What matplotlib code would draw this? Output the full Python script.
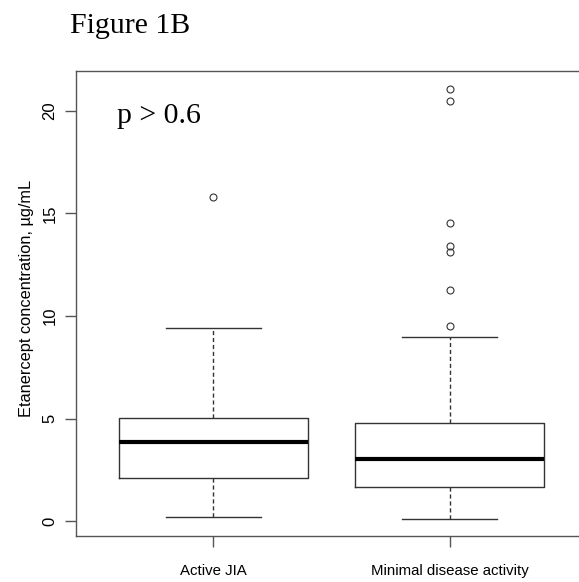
import matplotlib
matplotlib.use("Agg")
import matplotlib.pyplot as plt

groups = ["Active JIA", "Minimal disease activity"]
q1 = [2.10, 1.70]
med = [3.87, 3.02]
q3 = [5.02, 4.78]
whislo = [0.20, 0.13]
whishi = [9.40, 8.98]
fliers = [
    [15.8],
    [21.07, 20.48, 14.51, 13.42, 13.12, 11.29, 9.50],
]

stats = []
for i, g in enumerate(groups):
    stats.append(dict(label=g, q1=q1[i], med=med[i], q3=q3[i],
                      whislo=whislo[i], whishi=whishi[i], fliers=fliers[i]))

fig = plt.figure(figsize=(5.79, 5.82), dpi=100)
W, H = 579, 582
# axes box in pixels: left 76, right ~587 (cut off), top 71, bottom 536
ax = fig.add_axes([76 / W, 1 - 536 / H, (587 - 76) / W, (536 - 71) / H])

edge = "#333333"
ax.bxp(stats, positions=[1, 2], widths=0.8, showfliers=True,
       boxprops=dict(color=edge, linewidth=1.0),
       medianprops=dict(color="black", linewidth=3.0, solid_capstyle="butt"),
       whiskerprops=dict(color=edge, linewidth=1.0, linestyle=(0, (3, 2))),
       capprops=dict(color=edge, linewidth=1.0),
       capwidths=0.4,
       flierprops=dict(marker="o", markersize=5, markerfacecolor="none",
                       markeredgecolor=edge, markeredgewidth=0.8))

ax.set_xlim(0.42, 2.58)
ax.set_ylim(-0.71, 21.93)

for s in ax.spines.values():
    s.set_color("#555555")
    s.set_linewidth(1.0)

ax.set_yticks([0, 5, 10, 15, 20])
ax.set_yticklabels(["0", "5", "10", "15", "20"], rotation=90, va="center",
                   family="Liberation Sans", fontsize=12)
ax.set_xticks([1, 2])
ax.set_xticklabels(groups, family="Liberation Sans", fontsize=10.8)
ax.tick_params(axis="both", length=8, color="#555555", width=1.0)
ax.tick_params(axis="y", pad=5.5)
ax.tick_params(axis="x", pad=12)

fig.text(27 / W, 1 - 298 / H, "Etanercept concentration, \u00b5g/mL",
         rotation=90, ha="center", va="center",
         family="Liberation Sans", fontsize=11.8)

fig.text(70 / W, 1 - 33 / H, "Figure 1B", family="Liberation Serif",
         fontsize=21.5, ha="left", va="baseline")
ax.text(117 / W, 1 - 123 / H, "p > 0.6", family="Liberation Serif",
        fontsize=21.5, ha="left", va="baseline", transform=fig.transFigure)

fig.savefig("out.png", dpi=100)
